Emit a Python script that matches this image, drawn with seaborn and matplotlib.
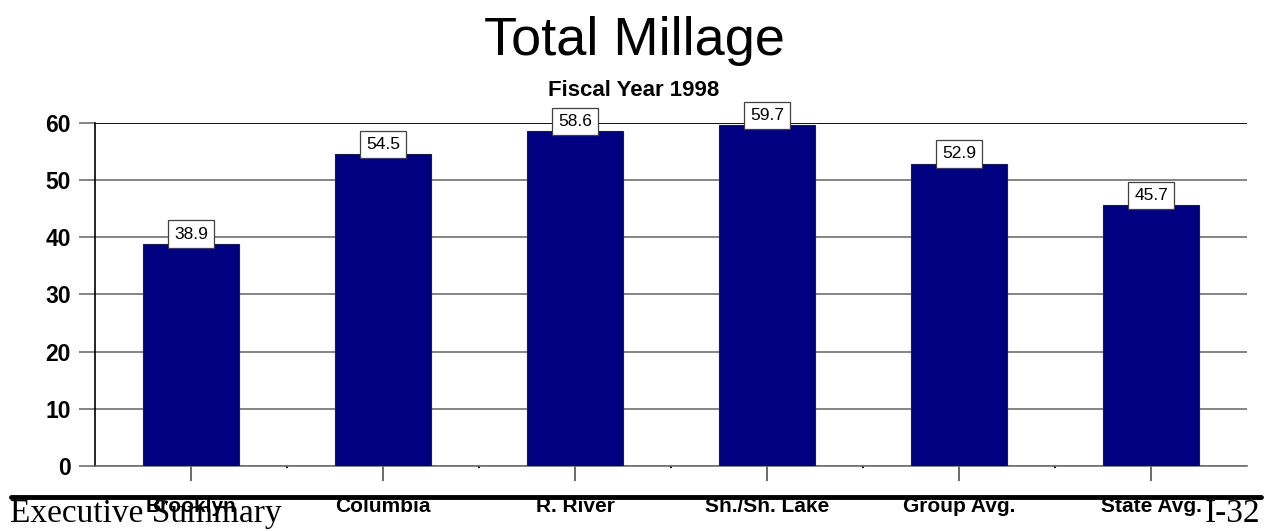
import matplotlib
matplotlib.use("Agg")
import matplotlib.pyplot as plt
from matplotlib.lines import Line2D
import seaborn as sns
import pandas as pd

# Total millage by district, fiscal year 1998
categories = ["Brooklyn", "Columbia", "R. River", "Sh./Sh. Lake", "Group Avg.", "State Avg."]
millage = [38.9, 54.5, 58.6, 59.7, 52.9, 45.7]
y_ticks = [0, 10, 20, 30, 40, 50, 60]

df = pd.DataFrame({"district": categories, "millage": millage})

sns.set_theme(style="white")
plt.rcParams["font.family"] = ["Liberation Sans", "DejaVu Sans"]
plt.rcParams["text.color"] = "black"
plt.rcParams["xtick.labelcolor"] = "black"
plt.rcParams["ytick.labelcolor"] = "black"

fig = plt.figure(figsize=(12.67, 5.31), dpi=100)
ax = fig.add_axes([0.075, 0.1224, 0.9093, 0.6460])

sns.barplot(data=df, x="district", y="millage", color="#000080", width=0.5,
            edgecolor="#202020", linewidth=0.8, saturation=1, ax=ax, zorder=3)

ax.set_xlim(-0.5, len(categories) - 0.5)
ax.set_ylim(0, 60)
ax.set_yticks(y_ticks)
ax.set_yticklabels([str(t) for t in y_ticks], fontsize=16.5, fontweight="bold")
ax.set_xticks(range(len(categories)))
ax.set_xticklabels(categories, fontsize=15, fontweight="bold")
ax.set_xlabel("")
ax.set_ylabel("")

# horizontal grid lines
ax.yaxis.grid(True, color="#707070", linewidth=1.2, zorder=0)
ax.xaxis.grid(False)
ax.set_axisbelow(True)

for side in ["top", "right"]:
    ax.spines[side].set_visible(False)
ax.spines["left"].set_color("black")
ax.spines["left"].set_linewidth(1.2)
ax.spines["bottom"].set_color("#707070")
ax.spines["bottom"].set_linewidth(1.2)
ax.axhline(60, color="black", linewidth=1.2, zorder=1)

ax.tick_params(axis="y", which="major", direction="out", length=11.5, width=1.2,
               color="#707070", pad=6, left=True)
ax.tick_params(axis="x", which="major", direction="out", length=11, width=1.2,
               color="#505050", pad=11, bottom=True)
ax.set_xticks([i + 0.5 for i in range(len(categories) - 1)], minor=True)
ax.tick_params(axis="x", which="minor", direction="out", length=1.5, width=1.5,
               color="black", bottom=True)

# boxed value labels sitting on top of each bar
for i, v in enumerate(millage):
    ax.annotate(f"{v:.1f}", xy=(i, v), xytext=(0, 1.5), textcoords="offset points",
                ha="center", va="bottom", fontsize=12.5, color="black", zorder=5,
                bbox=dict(boxstyle="square,pad=0.35", facecolor="white",
                          edgecolor="#404040", linewidth=0.9))

# titles
fig.text(0.501, 0.922, "Total Millage", ha="center", va="center", fontsize=39)
fig.text(0.5, 0.830, "Fiscal Year 1998", ha="center", va="center", fontsize=16,
         fontweight="bold")

# page footer
fig.add_artist(Line2D([0.009, 0.995], [0.064, 0.064], transform=fig.transFigure,
                      color="black", linewidth=3.5, zorder=10))
fig.text(0.008, 0.032, "Executive Summary", ha="left", va="center", fontsize=24,
         family=["Liberation Serif", "DejaVu Serif"], zorder=11)
fig.text(0.995, 0.032, "I-32", ha="right", va="center", fontsize=24,
         family=["Liberation Serif", "DejaVu Serif"], zorder=11)

fig.savefig("out.png", dpi=100, facecolor="white")
